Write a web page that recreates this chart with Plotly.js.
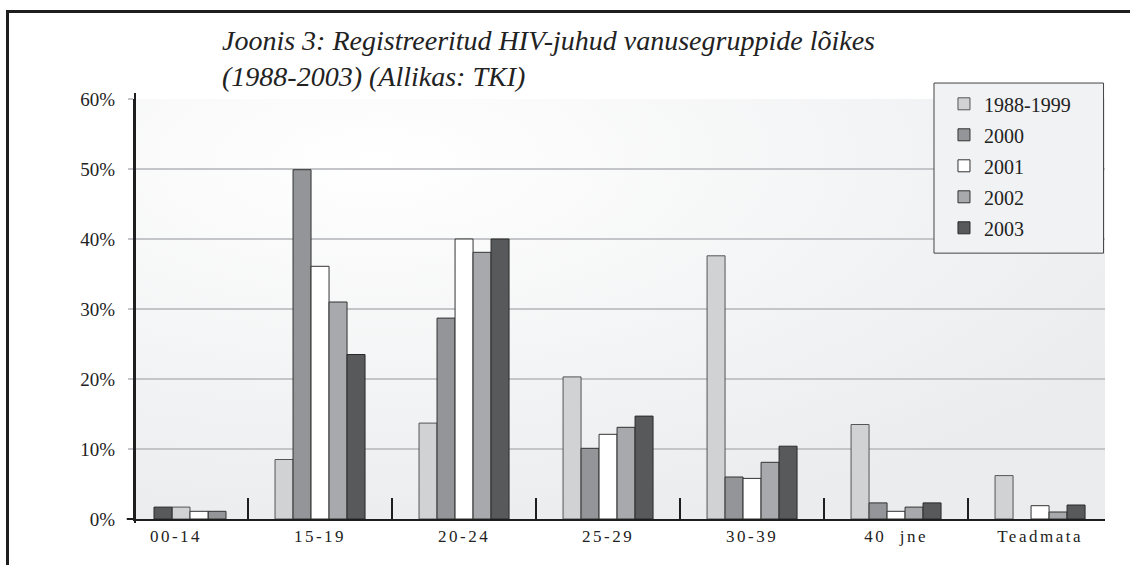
<!DOCTYPE html>
<html>
<head>
<meta charset="utf-8">
<script src="https://cdn.plot.ly/plotly-3.0.1.min.js"></script>
<style>
  html, body { margin: 0; padding: 0; background: #ffffff; }
  #chart { width: 1130px; height: 565px; }
  #frame { position: absolute; left: 6px; top: 10px; width: 1200px; height: 600px;
           border-left: 3px solid #1e1e1e; border-top: 3px solid #1e1e1e; pointer-events: none; }
  .xaxislayer-above .xtick text { letter-spacing: 2.5px; }
</style>
</head>
<body>
<div id="chart"></div>
<div id="frame"></div>
<script>
// ---- data (percent of registered HIV cases per age group) ----
const categories = ['00-14', '15-19', '20-24', '25-29', '30-39', '40\u00a0 jne', 'Teadmata'];
const seriesNames = ['1988-1999', '2000', '2001', '2002', '2003'];
const s1988_1999 = [1.7, 8.5, 13.7, 20.3, 37.6, 13.5, 6.2];
const s2000      = [1.1, 49.9, 28.7, 10.1, 6.0, 2.3, null];
const s2001      = [1.1, 36.1, 40.0, 12.1, 5.8, 1.1, 1.9];
const s2002      = [null, 31.0, 38.1, 13.1, 8.1, 1.7, 1.0];
const s2003      = [1.7, 23.5, 40.0, 14.7, 10.4, 2.3, 2.0];
const yTickVals  = [0, 10, 20, 30, 40, 50, 60];
const yTickText  = ['0%', '10%', '20%', '30%', '40%', '50%', '60%'];

// ---- styles ----
const serif = "'Liberation Serif', 'Times New Roman', serif";
const colors = ['#d1d2d4', '#939598', '#ffffff', '#a7a9ac', '#58595b'];
const lineColors = ['#555555', '#333333', '#333333', '#333333', '#2a2a2a'];
const barW = 0.125;
const slotOffset = [-0.3125, -0.1875, -0.0625, 0.0625, 0.1875];
// in the first group the original chart draws its bars in a different order
const firstGroupOffset = [-0.028, 0.222, 0.097, 0.0625, -0.153];

const allSeries = [s1988_1999, s2000, s2001, s2002, s2003];
const traces = allSeries.map((vals, i) => ({
  type: 'bar',
  name: seriesNames[i],
  x: categories,
  y: vals,
  width: barW,
  offset: categories.map((c, j) => j === 0 ? firstGroupOffset[i] : slotOffset[i]),
  marker: { color: colors[i], line: { color: lineColors[i], width: 1 } },
  legendgroup: 'g' + i,
  hoverinfo: 'x+y+name'
}));

const gradSvg = '<svg xmlns="http://www.w3.org/2000/svg" width="970" height="420">' +
  '<defs><radialGradient id="g" cx="0.25" cy="0.15" r="0.9">' +
  '<stop offset="0" stop-color="#ffffff"/><stop offset="1" stop-color="#ebecee"/></radialGradient></defs>' +
  '<rect width="970" height="420" fill="url(#g)"/></svg>';

const layout = {
  width: 1130, height: 565,
  margin: { l: 135, r: 25, t: 99, b: 46, pad: 0 },
  paper_bgcolor: '#ffffff',
  plot_bgcolor: '#f3f4f5',
  font: { family: serif, color: '#222222', size: 15 },
  title: {
    text: 'Joonis 3: Registreeritud HIV-juhud vanusegruppide lõikes<br>(1988-2003) (Allikas: TKI)',
    font: { family: serif, size: 28, style: 'italic', color: '#222222' },
    xref: 'container', yref: 'container',
    x: 222 / 1130, xanchor: 'left',
    y: 1 - 50 / 565, yanchor: 'top'
  },
  barmode: 'overlay',
  showlegend: true,
  legend: {
    x: 0.834, xanchor: 'left', y: 1.035, yanchor: 'top',
    bgcolor: 'rgba(0,0,0,0)', borderwidth: 0,
    font: { family: serif, size: 20, color: '#222222' },
    traceorder: 'grouped', tracegroupgap: 2
  },
  xaxis: {
    type: 'category',
    range: [-0.285, 6.451],
    showgrid: false,
    showline: true, linecolor: '#1e1e1e', linewidth: 2,
    ticks: 'inside', tickson: 'boundaries', ticklen: 21, tickwidth: 1.5, tickcolor: '#1e1e1e',
    tickfont: { family: serif, size: 17, color: '#222222' },
    ticklabelstandoff: 1,
    zeroline: false, fixedrange: true
  },
  yaxis: {
    range: [0, 60],
    tickvals: yTickVals, ticktext: yTickText,
    showgrid: true, gridcolor: '#c4c5c9', gridwidth: 1.5,
    showline: true, linecolor: '#1e1e1e', linewidth: 2,
    ticks: 'outside', ticklen: 5, tickcolor: '#c4c5c9', tickwidth: 1.5,
    tickfont: { family: serif, size: 19, color: '#222222' },
    ticklabelstandoff: 9,
    zeroline: false, fixedrange: true
  },
  images: [{
    source: 'data:image/svg+xml;utf8,' + encodeURIComponent(gradSvg),
    xref: 'paper', yref: 'paper', x: 0, y: 1, sizex: 1, sizey: 1,
    sizing: 'stretch', layer: 'below', xanchor: 'left', yanchor: 'top'
  }],
  shapes: [
    // legend box
    { type: 'rect', xref: 'paper', yref: 'paper', x0: 0.8237, x1: 0.9985, y0: 0.633, y1: 1.038,
      fillcolor: '#f1f2f4', line: { color: '#444444', width: 1 }, layer: 'above' },
    // extension of the base line to the left of the value axis
    { type: 'line', xref: 'paper', yref: 'paper', x0: -0.0085, x1: 0, y0: 0, y1: 0,
      line: { color: '#1e1e1e', width: 2 } },
    // value axis runs slightly past the plot area at both ends
    { type: 'line', xref: 'paper', yref: 'paper', x0: 0, x1: 0, y0: -0.0095, y1: 1.014,
      line: { color: '#1e1e1e', width: 2 } }
  ]
};

Plotly.newPlot('chart', traces, layout, { displayModeBar: false, staticPlot: true });
</script>
</body>
</html>
